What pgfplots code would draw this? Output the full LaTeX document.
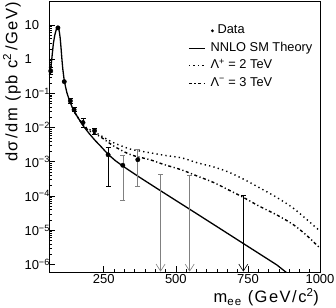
\documentclass[border=0pt]{standalone}
\usepackage{pgfplots}
\pgfplotsset{compat=1.18}
\usepackage{fontspec}
\setmainfont{Liberation Sans}
\newfontfamily\labelfont[LetterSpace=9]{Liberation Sans}
\usetikzlibrary{arrows.meta}

\pgfplotsset{
  datalegend/.style={legend image code/.code={\path[draw=none,fill=none] (0pt,0pt) -- (16pt,0pt); \fill[black, draw=none, overlay] (23.5pt,0pt) circle[radius=1.6pt];}},
  linelegend/.style={legend image code/.code={\draw[##1] (0pt,0pt) -- (16pt,0pt);}},
}

\pgfplotstableread{
m v
66 0.5
68 0.75
71 1.3
75 2.8
80 5.0
85 7.2
89 8.5
91 8.7
93 8.0
96 6.2
99 4.0
102 2.0
105 0.95
108 0.5
112 0.27
117 0.16
122 0.105
130 0.065
140 0.04
150 0.027
165 0.017
180 0.0108
200 0.0066
220 0.0042
240 0.0028
265 0.00165
290 0.00108
316 0.00075
350 0.00048
377 0.00034
450 1.37e-4
550 4.0e-5
650 1.16e-5
750 3.35e-6
850 9.7e-7
900 4.5e-7
}\sm

\pgfplotstableread{
m v
150 0.027
165 0.0172
180 0.0115
200 0.0088
230 0.0065
260 0.0046
284 0.0036
342 0.00235
400 0.0019
459 0.00155
520 0.0013
575 9.3e-4
630 7.1e-4
680 5.1e-4
735 3.1e-4
790 1.74e-4
850 9.1e-5
906 4.5e-5
950 2.2e-5
1000 9.4e-6
}\lplus

\pgfplotstableread{
m v
150 0.027
165 0.0172
180 0.0113
200 0.0080
238 0.0054
284 0.0029
336 0.00170
368 0.00140
410 0.00115
459 8.3e-4
520 5.8e-4
575 3.8e-4
630 2.5e-4
680 1.55e-4
735 9.0e-5
790 5.0e-5
850 2.8e-5
906 1.48e-5
950 7.5e-6
1000 3.0e-6
}\lminus

\pgfplotstableread{
m v ep em
66 0.45 0.12 0.10
134 0.06 0.012 0.010
147 0.033 0.005 0.004
178 0.014 0.005 0.004
218 0.0081 0.0014 0.0019
265 0.0016 0.0010 0.00141
}\datablack

\pgfplotstableread{
m v ep em
316 7.9e-4 7.1e-4 7.16e-4
368 1.15e-3 1.11e-3 9.56e-4
}\datagray

\pgfplotstableread{
m v
91 8.2
113 0.22
}\datanobar

\begin{document}
\begin{tikzpicture}
\useasboundingbox (-49pt,-35pt) rectangle (287pt,272pt);
\begin{axis}[
  scale only axis, width=271pt, height=271pt,
  ymode=log, xmin=60, xmax=1000, ymin=6e-7, ymax=50,
  axis line style={line width=0.8pt},
  tick align=inside, xtick pos=left, ytick pos=left,
  major tick length=6pt, minor tick length=3pt,
  tick style={line width=0.6pt, black},
  xtick={250,500,750,1000}, xticklabels={250,500,750,1000},
  minor x tick num=6,
  ytick={1e-6,1e-5,1e-4,1e-3,1e-2,1e-1,1,10},
  yticklabels={10\textsuperscript{−6},10\textsuperscript{−5},10\textsuperscript{−4},10\textsuperscript{−3},10\textsuperscript{−2},10\textsuperscript{−1},1,10},
  tick label style={font=\fontsize{13}{15}\selectfont},
  xticklabel style={yshift=1.2pt},
  yticklabel style={anchor=west, xshift=-28pt},
  xlabel={m\textsubscript{ee} (GeV/c\textsuperscript{2})},
  xlabel style={at={(axis description cs:1,0)}, anchor=east, yshift=-25pt, xshift=2.5pt, font=\labelfont\fontsize{16.5}{18}\selectfont},
  ylabel={dσ\,/dm (pb c\textsuperscript{2}\,/GeV)},
  ylabel style={at={(axis description cs:-0.1365,1.01)}, anchor=east, font=\labelfont\fontsize{16.5}{18}\selectfont},
  legend style={at={(rel axis cs:0.513,0.913)}, anchor=north west, draw=none, fill=none,
    inner sep=0pt, row sep=5.5pt, column sep=5pt,
    font=\fontsize{12.8}{14}\selectfont,
    nodes={inner sep=0pt, text height=9pt, text depth=3pt}},
  legend cell align=left,
]
\addplot[only marks, mark=*, mark size=2.2pt, black, datalegend]
  table[x=m,y=v] {\datanobar};
\addplot[black, line width=1.3pt, linelegend] table[x=m,y=v] {\sm};
\addplot[black, line width=1.4pt, dash pattern=on 1.3pt off 3.2pt, smooth, linelegend] table[x=m,y=v] {\lplus};
\addplot[black, line width=1.4pt, dash pattern=on 3pt off 2.5pt on 1.2pt off 2.5pt, smooth, linelegend] table[x=m,y=v] {\lminus};
\legend{\hspace{7pt}Data, NNLO SM Theory, Λ\textsuperscript{+} = 2 TeV, Λ\textsuperscript{−} = 3 TeV}

\addplot[forget plot, only marks, mark=*, mark size=2.2pt, black,
  error bars/.cd, y dir=both, y explicit,
  error bar style={line width=0.6pt, black},
  error mark options={rotate=90, mark size=2.5pt, line width=0.6pt, black}]
  table[x=m,y=v,y error plus=ep,y error minus=em] {\datablack};
\addplot[forget plot, only marks, mark=*, mark size=2.2pt, black,
  error bars/.cd, y dir=both, y explicit,
  error bar style={line width=0.6pt, gray},
  error mark options={rotate=90, mark size=2.5pt, line width=0.6pt, gray}]
  table[x=m,y=v,y error plus=ep,y error minus=em] {\datagray};

\addplot[forget plot, gray, line width=0.6pt, arrows={Bar[width=5pt]-Straight Barb[length=7pt,width=9pt]}] coordinates {(447,4.4e-4) (447,6.15e-7)};
\addplot[forget plot, gray, line width=0.6pt, arrows={Bar[width=5pt]-Straight Barb[length=7pt,width=9pt]}] coordinates {(548,4.2e-4) (548,6.15e-7)};
\addplot[forget plot, black, line width=0.6pt, arrows={Bar[width=5pt]-Straight Barb[length=7pt,width=9pt]}] coordinates {(734,1.05e-4) (734,6.15e-7)};
\end{axis}
\end{tikzpicture}
\end{document}
